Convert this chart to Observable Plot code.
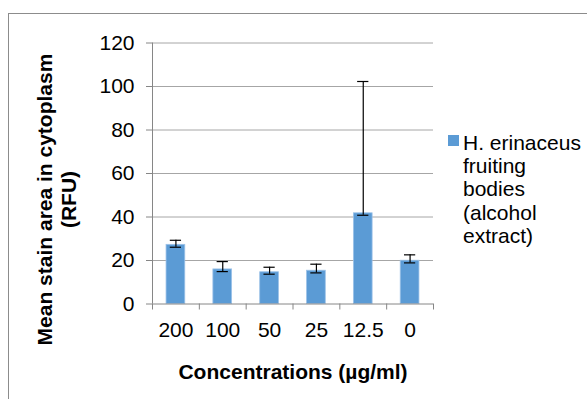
<!DOCTYPE html>
<html>
<head>
<meta charset="utf-8">
<script src="https://cdn.jsdelivr.net/npm/d3@7"></script>
<script src="https://cdn.jsdelivr.net/npm/@observablehq/plot@0.6"></script>
<style>
  html, body { margin: 0; padding: 0; background: #fff; }
  #wrap { position: relative; width: 587px; height: 399px; overflow: hidden; font-family: "Liberation Sans", Arial, sans-serif; }
  #frame { position: absolute; left: 8px; top: 13px; width: 700px; height: 500px; border-left: 1px solid #8c8c8c; border-top: 1px solid #8c8c8c; }
  #chart { position: absolute; left: 0; top: 0; }
  #legend { position: absolute; left: 448px; top: 131px; font-size: 21px; line-height: 23.2px; color: #000; }
  #legend .sw { position: absolute; left: 0; top: 4px; width: 10.5px; height: 10.5px; background: #5B9BD5; }
  #legend .tx { position: absolute; left: 15px; top: 0; white-space: nowrap; }
</style>
</head>
<body>
<div id="wrap">
  <div id="frame"></div>
  <div id="chart"></div>
  <div id="legend"><div class="sw"></div><div class="tx" id="legtext"></div></div>
</div>
<script>
// Data
const categories = ["200", "100", "50", "25", "12.5", "0"];
const values     = [27.2, 15.9, 14.6, 15.3, 41.7, 19.9];
const errHigh    = [29.3, 19.5, 16.9, 18.3, 102.3, 22.6];
const errLow     = [26.1, 14.9, 13.7, 14.3, 40.8, 18.9];
const yTicks     = [0, 20, 40, 60, 80, 100, 120];
const seriesName = "H. erinaceus\nfruiting\nbodies\n(alcohol\nextract)";
const xTitle = "Concentrations (µg/ml)";
const yTitle = "Mean stain area in cytoplasm\n(RFU)";

const data = categories.map((c, i) => ({i, c, v: values[i], hi: errHigh[i], lo: errLow[i]}));
const bounds = d3.range(categories.length + 1);
const centers = d3.range(categories.length).map(i => i + 0.5);

const chart = Plot.plot({
  width: 587,
  height: 399,
  marginLeft: 152,
  marginRight: 154,
  marginTop: 42.5,
  marginBottom: 95.5,
  style: {fontFamily: "Liberation Sans, Arial, sans-serif", fontSize: "21px", color: "#000", background: "transparent"},
  x: {type: "linear", domain: [0, categories.length], axis: null},
  y: {domain: [0, 120], axis: null},
  marks: [
    Plot.ruleY(yTicks.filter(t => t > 0), {stroke: "#a6a6a6", strokeWidth: 1}),
    Plot.rectY(data, {x1: d => d.i + 0.3, x2: d => d.i + 0.7, y1: 0, y2: "v", fill: "#5B9BD5", stroke: "#9cc2e8", strokeWidth: 0.8}),
    Plot.ruleX(data, {x: d => d.i + 0.5, y1: "lo", y2: "hi", stroke: "#000", strokeWidth: 1.2}),
    Plot.ruleY(data, {y: "hi", x1: d => d.i + 0.38, x2: d => d.i + 0.62, stroke: "#000", strokeWidth: 1.2}),
    Plot.ruleY(data, {y: "lo", x1: d => d.i + 0.38, x2: d => d.i + 0.62, stroke: "#000", strokeWidth: 1.2}),
    Plot.ruleX([0], {stroke: "#868686", strokeWidth: 1}),
    Plot.ruleY([0], {stroke: "#868686", strokeWidth: 1}),
    Plot.axisY({ticks: yTicks, tickSize: 6, tickPadding: 12, stroke: "#868686", fill: "#000", fontSize: 21, label: null}),
    Plot.axisX({ticks: bounds, tickSize: 6, tickFormat: () => "", stroke: "#868686", label: null}),
    Plot.axisX({ticks: centers, tickSize: 0, tickPadding: 18, tickFormat: d => categories[Math.floor(d)], fill: "#000", fontSize: 21, label: null}),
    Plot.text([xTitle], {frameAnchor: "bottom", dy: 68.5, lineAnchor: "middle", fontSize: 21, fontWeight: "bold", fill: "#000"}),
    Plot.text([yTitle], {frameAnchor: "left", rotate: -90, textAnchor: "middle", dx: -96.6, dy: 26, lineAnchor: "middle", lineHeight: 1.15, fontSize: 21, fontWeight: "bold", fill: "#000"})
  ]
});
document.getElementById("chart").appendChild(chart);
document.getElementById("legtext").innerHTML = seriesName.split("\n").join("<br>");
</script>
</body>
</html>
